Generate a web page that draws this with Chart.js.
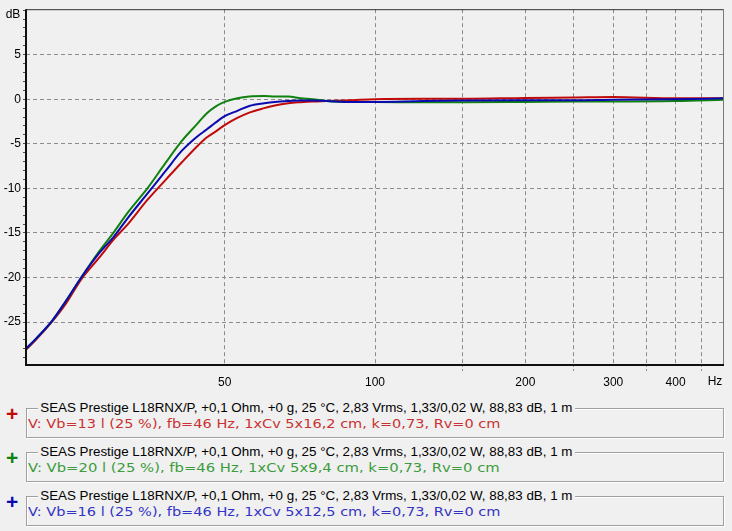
<!DOCTYPE html>
<html>
<head>
<meta charset="utf-8">
<script src="https://cdn.jsdelivr.net/npm/chart.js@4/dist/chart.umd.min.js"></script>
<style>
  html, body { margin:0; padding:0; background:#f0f0f0; }
  #wrap { position:relative; width:732px; height:531px; overflow:hidden; }
  #chart { position:absolute; left:0; top:0; }
  .plus { position:absolute; left:6px; font:bold 21px "Liberation Sans", sans-serif; line-height:20px; }
  .box { position:absolute; left:26px; width:696px; height:28px; border:1px solid #a0a0a0; box-shadow: inset 1px 1px 0 #fff, 1px 1px 0 #fff; }
  .head { position:absolute; left:38px; font:12px "Liberation Sans", sans-serif; color:#000; background:#f0f0f0; padding:0 2px; white-space:nowrap; transform-origin:0 50%; line-height:14px; }
  .sub { position:absolute; left:28px; font:12px "DejaVu Sans", sans-serif; white-space:nowrap; transform-origin:0 50%; line-height:14px; }
</style>
</head>
<body>
<div id="wrap">
  <canvas id="chart" width="732" height="395"></canvas>
  <div id="legend"></div>
</div>
<script>
// x: frequency in Hz, y: level in dB
const freqs = [20, 21, 22.6, 24, 25.8, 28, 30, 32, 35, 38, 41, 44, 46, 48, 50, 53, 56, 60, 63, 67, 71, 75, 80, 90, 100, 125, 150, 200, 250, 300, 400, 500];
const redDb   = [-28.1, -26.9, -24.9, -23.0, -20.2, -17.8, -15.7, -14.0, -11.3, -9.1, -7.1, -5.3, -4.3, -3.6, -2.9, -2.1, -1.5, -1.0, -0.7, -0.45, -0.33, -0.25, -0.2, -0.1, 0.0, 0.05, 0.05, 0.15, 0.2, 0.25, 0.1, 0.1];
const greenDb = [-28.0, -26.8, -24.8, -22.7, -20.0, -17.1, -14.9, -12.7, -10.0, -7.2, -4.7, -2.8, -1.6, -0.8, -0.3, 0.1, 0.3, 0.35, 0.3, 0.3, 0.1, 0.0, -0.2, -0.3, -0.3, -0.35, -0.35, -0.3, -0.25, -0.25, -0.2, -0.05];
const blueDb  = [-28.0, -26.8, -24.8, -22.7, -20.0, -17.3, -15.4, -13.3, -10.6, -8.1, -5.8, -4.2, -3.4, -2.6, -1.9, -1.3, -0.75, -0.45, -0.3, -0.2, -0.15, -0.15, -0.2, -0.3, -0.3, -0.2, -0.15, -0.1, -0.1, -0.05, 0.0, 0.1];

const xTicks  = [50, 100, 150, 200, 250, 300, 350, 400, 450];
const xLabels = [50, 100, 200, 300, 400];
const yLabels = [-25, -20, -15, -10, -5, 0, 5];

const headText = 'SEAS Prestige L18RNX/P, +0,1 Ohm, +0 g, 25 °C, 2,83 Vrms, 1,33/0,02 W, 88,83 dB, 1 m';
const subTexts = [
  'V: Vb=13 l (25 %), fb=46 Hz, 1xCv 5x16,2 cm, k=0,73, Rv=0 cm',
  'V: Vb=20 l (25 %), fb=46 Hz, 1xCv 5x9,4 cm, k=0,73, Rv=0 cm',
  'V: Vb=16 l (25 %), fb=46 Hz, 1xCv 5x12,5 cm, k=0,73, Rv=0 cm'
];
const plusColors = ['#c00a0a', '#0f820f', '#0a0ab0'];
const subColors  = ['#c83232', '#3c9c3c', '#3434c4'];

function pts(arr){ return freqs.map((f,i)=>({x:f, y:arr[i]})); }

// frame + axis captions
const framePlugin = {
  id: 'frame',
  afterDraw(chart){
    const {ctx, chartArea:a} = chart;
    ctx.save();
    ctx.strokeStyle = '#303030';
    ctx.lineWidth = 1;
    ctx.beginPath(); ctx.moveTo(a.left, a.top + 0.5); ctx.lineTo(a.right, a.top + 0.5); ctx.stroke();
    ctx.strokeStyle = '#7a7a7a';
    ctx.beginPath(); ctx.moveTo(a.right - 0.5, a.top); ctx.lineTo(a.right - 0.5, a.bottom); ctx.stroke();
    ctx.strokeStyle = '#101010';
    ctx.lineWidth = 2;
    ctx.beginPath(); ctx.moveTo(a.left, a.top); ctx.lineTo(a.left, a.bottom + 1); ctx.lineTo(a.right, a.bottom + 1); ctx.stroke();
    ctx.fillStyle = '#000';
    ctx.font = '12px "Liberation Sans", sans-serif';
    ctx.textAlign = 'center';
    ctx.textBaseline = 'middle';
    ctx.fillText('dB', 13, 15);
    ctx.fillText('Hz', 715, 382);
    ctx.restore();
  }
};

const lineOpts = { borderWidth: 2, pointRadius: 0, cubicInterpolationMode: 'monotone' };

new Chart(document.getElementById('chart'), {
  type: 'line',
  data: {
    datasets: [
      { ...lineOpts, data: pts(blueDb),  borderColor: plusColors[2] },
      { ...lineOpts, data: pts(greenDb), borderColor: plusColors[1] },
      { ...lineOpts, data: pts(redDb),   borderColor: plusColors[0] }
    ]
  },
  options: {
    responsive: false,
    animation: false,
    layout: { padding: { top: 6, right: 8, left: 0, bottom: 0 } },
    plugins: { legend: { display: false }, tooltip: { enabled: false } },
    scales: {
      x: {
        type: 'logarithmic', min: 20, max: 500,
        afterBuildTicks: s => { s.ticks = xTicks.map(v => ({value: v})); },
        afterFit: s => { s.height = 31; },
        ticks: {
          autoSkip: false, maxRotation: 0, padding: 4, color: '#000',
          font: { family: 'Liberation Sans', size: 12 },
          callback: v => xLabels.includes(v) ? String(v) : ''
        },
        grid: {
          color: '#8c8c8c', lineWidth: 1, tickLength: 7,
          tickColor: c => (c.tick && xLabels.includes(c.tick.value)) ? 'transparent' : '#8c8c8c',
          tickBorderDash: [3, 2]
        },
        border: { display: false, dash: [4, 3] }
      },
      y: {
        min: -29.7, max: 10.1,
        afterBuildTicks: s => {
          const t = [];
          for (let v = -29; v <= 10; v++) t.push({value: v});
          s.ticks = t;
        },
        afterFit: s => { s.width = 26; },
        ticks: {
          autoSkip: false, padding: 2, color: '#000',
          font: { family: 'Liberation Sans', size: 12 },
          callback: v => yLabels.includes(v) ? String(v) : ''
        },
        grid: {
          color: c => (c.tick && yLabels.includes(c.tick.value)) ? '#8c8c8c' : 'transparent',
          lineWidth: 1, tickLength: 3, tickColor: '#505050'
        },
        border: { display: false, dash: [4, 3] }
      }
    }
  },
  plugins: [framePlugin]
});

// legend rows below the plot
const legend = document.getElementById('legend');
subTexts.forEach((txt, i) => {
  const top = 408 + i * 44;
  legend.insertAdjacentHTML('beforeend', `
    <span class="plus" style="top:${top - 4}px;color:${plusColors[i]}">+</span>
    <div class="box" style="top:${top}px"></div>
    <span class="head" style="top:${top - 7}px">${headText}</span>
    <span class="sub" style="top:${top + 9}px;color:${subColors[i]}">${txt}</span>
  `);
});
// squeeze texts to the widths seen in the reference
document.querySelectorAll('.head').forEach(el => { el.style.transform = `scaleX(${537 / el.offsetWidth})`; });
document.querySelectorAll('.sub').forEach(el => { el.style.transform = `scaleX(${472 / el.offsetWidth})`; });
</script>
</body>
</html>
